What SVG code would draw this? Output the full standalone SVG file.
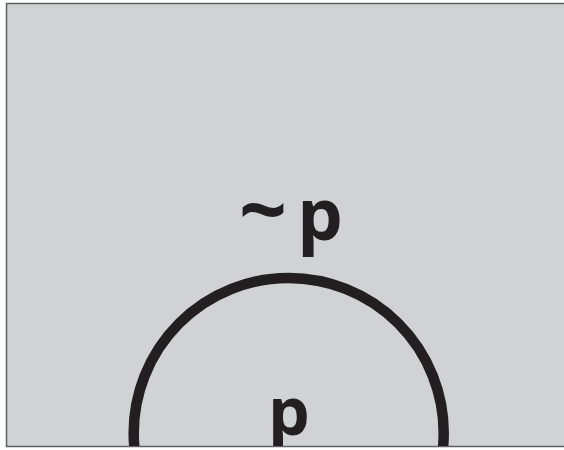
<svg xmlns="http://www.w3.org/2000/svg" width="564" height="450" viewBox="0 0 564 450">
  <style>
    .lbl { font-family: "Open Sans", "Liberation Sans", sans-serif; font-weight: bold; fill: #231f20; text-anchor: middle; }
  </style>
  <defs>
    <clipPath id="inside">
      <rect x="7" y="4" width="560" height="442"/>
    </clipPath>
  </defs>
  <rect x="0" y="0" width="564" height="450" fill="#ffffff"/>
  <rect id="frame" x="6.5" y="3.5" width="570" height="443" fill="#d1d2d4" stroke="#5f6062" stroke-width="1.5"/>
  <g id="region-p" clip-path="url(#inside)">
    <circle cx="288.7" cy="433" r="155" fill="none" stroke="#231f20" stroke-width="10.5"/>
    <text class="lbl" x="289" y="435" font-size="66">p</text>
  </g>
  <g id="region-not-p">
    <text class="lbl" x="263" y="240" font-size="84">~</text>
    <text class="lbl" x="320" y="240" font-size="72">p</text>
  </g>
</svg>
